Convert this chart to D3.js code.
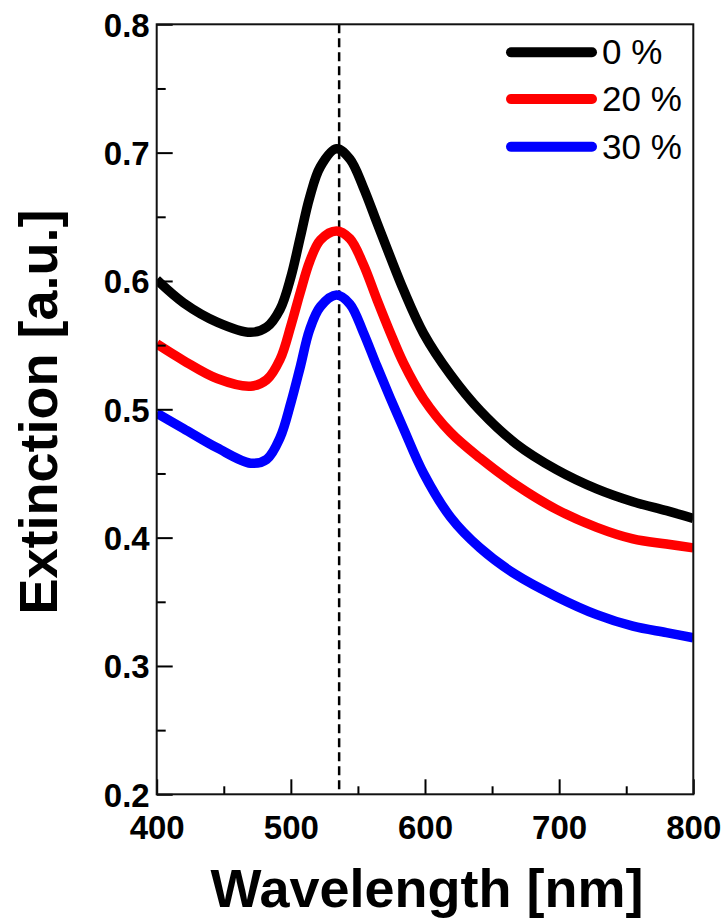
<!DOCTYPE html>
<html>
<head>
<meta charset="utf-8">
<script src="https://cdn.jsdelivr.net/npm/d3@7/dist/d3.min.js"></script>
<style>
  html, body { margin: 0; padding: 0; background: #fff; }
  svg { display: block; }
</style>
</head>
<body>
<svg id="chart" width="724" height="918"></svg>
<script>
// Extinction spectra of the three samples
const wavelengths = [400, 420, 445, 470, 482, 492, 500, 507, 514, 522, 534, 544, 554, 564, 574, 584, 599, 619, 641, 668, 698, 728, 755, 780, 800];
const ext0 = [0.601, 0.583, 0.568, 0.560, 0.564, 0.578, 0.603, 0.634, 0.665, 0.689, 0.703, 0.695, 0.673, 0.646, 0.619, 0.593, 0.559, 0.527, 0.499, 0.473, 0.453, 0.438, 0.428, 0.421, 0.415];
const ext20 = [0.551, 0.538, 0.524, 0.518, 0.523, 0.539, 0.565, 0.591, 0.615, 0.632, 0.639, 0.633, 0.613, 0.586, 0.560, 0.536, 0.508, 0.482, 0.462, 0.441, 0.422, 0.408, 0.399, 0.395, 0.392];
const ext30 = [0.497, 0.485, 0.470, 0.458, 0.461, 0.478, 0.505, 0.533, 0.562, 0.580, 0.589, 0.582, 0.560, 0.534, 0.509, 0.485, 0.450, 0.416, 0.392, 0.371, 0.354, 0.340, 0.331, 0.326, 0.322];
const seriesLabels = ["0 %", "20 %", "30 %"];
const seriesColors = ["#000000", "#ff0000", "#0000ff"];
const peakWavelength = 536;

const xMajor = [400, 500, 600, 700, 800];
const xMinor = [450, 550, 650, 750];
const yMajor = [0.2, 0.3, 0.4, 0.5, 0.6, 0.7, 0.8];
const yMinor = [0.25, 0.35, 0.45, 0.55, 0.65, 0.75];

const plotLeft = 156.7, plotRight = 693.3, plotTop = 24.3, plotBottom = 794.3;

const svg = d3.select("#chart");
const x = d3.scaleLinear().domain([400, 800]).range([plotLeft, plotRight]);
const y = d3.scaleLinear().domain([0.2, 0.8]).range([plotBottom, plotTop]);

const font = "'Liberation Sans', Arial, Helvetica, sans-serif";

// clip curves to the plot box
svg.append("defs").append("clipPath").attr("id", "plotClip")
  .append("rect").attr("x", plotLeft).attr("y", plotTop)
  .attr("width", plotRight - plotLeft).attr("height", plotBottom - plotTop);

// dashed marker at the plasmon peak
svg.append("line")
  .attr("x1", x(peakWavelength)).attr("x2", x(peakWavelength))
  .attr("y1", plotTop).attr("y2", plotBottom)
  .attr("stroke", "#000").attr("stroke-width", 2.5)
  .attr("stroke-dasharray", "9,5");

// spectra
const allSeries = [ext0, ext20, ext30];
const line = d3.line()
  .x((d, i) => x(wavelengths[i]))
  .y(d => y(d))
  .curve(d3.curveCatmullRom.alpha(0.5));

svg.append("g").attr("clip-path", "url(#plotClip)")
  .selectAll("path")
  .data(allSeries)
  .join("path")
  .attr("d", d => line(d))
  .attr("fill", "none")
  .attr("stroke", (d, i) => seriesColors[i])
  .attr("stroke-width", 9.5)
  .attr("stroke-linejoin", "round");

// axes with inward ticks
const xAxis = svg.append("g").attr("transform", `translate(0,${plotBottom})`)
  .call(d3.axisBottom(x).tickValues(xMajor).tickSize(-15).tickSizeOuter(0).tickFormat(d3.format("d")));
xAxis.select(".domain").remove();
xAxis.selectAll("line").attr("stroke", "#000").attr("stroke-width", 2);
xAxis.selectAll("text")
  .attr("y", 45).attr("dy", null)
  .attr("font-family", font).attr("font-weight", "bold").attr("font-size", 33).attr("fill", "#000");

const xMinorAxis = svg.append("g").attr("transform", `translate(0,${plotBottom})`)
  .call(d3.axisBottom(x).tickValues(xMinor).tickSize(-8).tickSizeOuter(0).tickFormat(""));
xMinorAxis.select(".domain").remove();
xMinorAxis.selectAll("line").attr("stroke", "#000").attr("stroke-width", 2);

const yAxis = svg.append("g").attr("transform", `translate(${plotLeft},0)`)
  .call(d3.axisLeft(y).tickValues(yMajor).tickSize(-16).tickSizeOuter(0).tickFormat(d3.format(".1f")));
yAxis.select(".domain").remove();
yAxis.selectAll("line").attr("stroke", "#000").attr("stroke-width", 2);
yAxis.selectAll("text")
  .attr("x", -7).attr("dy", 12)
  .attr("font-family", font).attr("font-weight", "bold").attr("font-size", 33).attr("fill", "#000");

const yMinorAxis = svg.append("g").attr("transform", `translate(${plotLeft},0)`)
  .call(d3.axisLeft(y).tickValues(yMinor).tickSize(-9).tickSizeOuter(0).tickFormat(""));
yMinorAxis.select(".domain").remove();
yMinorAxis.selectAll("line").attr("stroke", "#000").attr("stroke-width", 2);

// frame
svg.append("rect")
  .attr("x", plotLeft).attr("y", plotTop)
  .attr("width", plotRight - plotLeft).attr("height", plotBottom - plotTop)
  .attr("fill", "none").attr("stroke", "#111").attr("stroke-width", 2);

// axis titles
svg.append("text")
  .attr("x", 427).attr("y", 907)
  .attr("text-anchor", "middle")
  .attr("font-family", font).attr("font-weight", "bold").attr("font-size", 54)
  .text("Wavelength [nm]");

svg.append("text")
  .attr("transform", "translate(57,412) rotate(-90)")
  .attr("text-anchor", "middle")
  .attr("font-family", font).attr("font-weight", "bold").attr("font-size", 54)
  .text("Extinction [a.u.]");

// legend
const legendY = [52.3, 99, 146.7];
const legend = svg.append("g");
seriesLabels.forEach((label, i) => {
  legend.append("line")
    .attr("x1", 511).attr("x2", 592)
    .attr("y1", legendY[i]).attr("y2", legendY[i])
    .attr("stroke", seriesColors[i]).attr("stroke-width", 10)
    .attr("stroke-linecap", "round");
  legend.append("text")
    .attr("x", 602).attr("y", legendY[i] + 12)
    .attr("font-family", font).attr("font-size", 35).attr("fill", "#000")
    .text(label);
});
</script>
</body>
</html>
